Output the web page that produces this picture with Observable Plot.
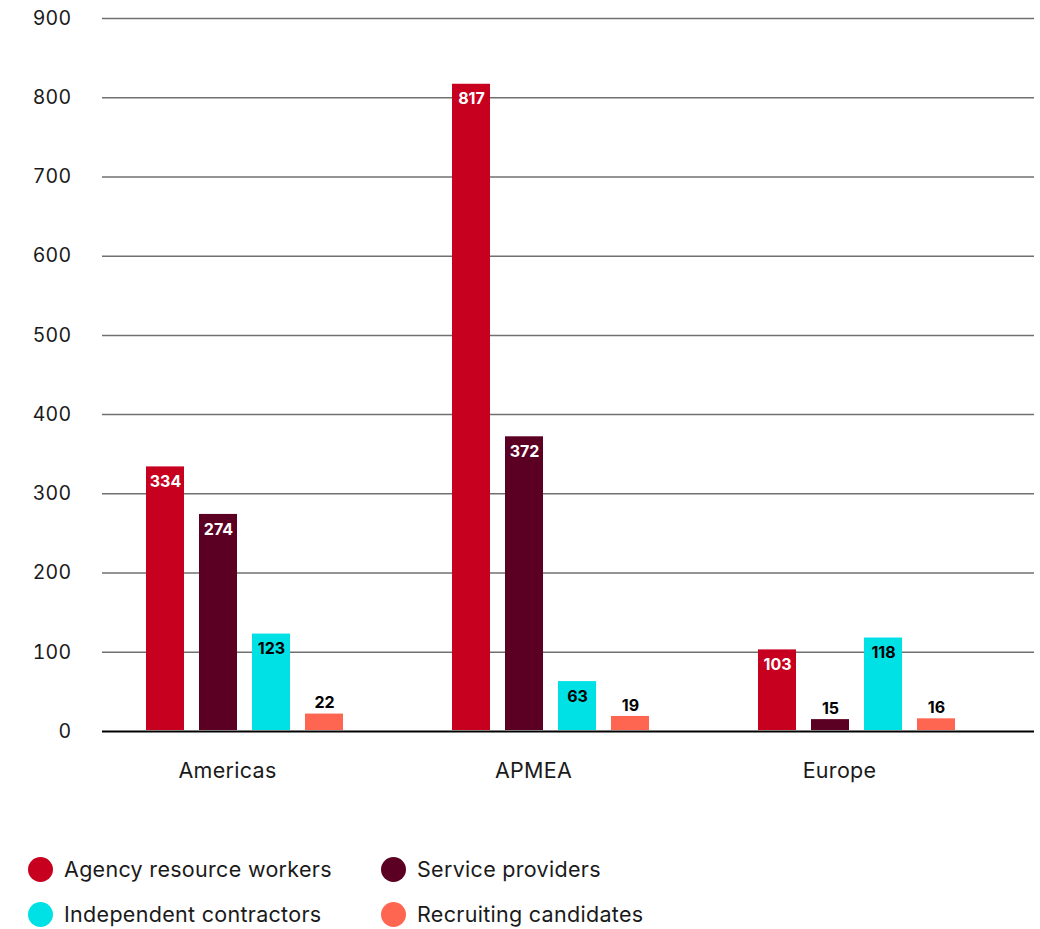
<!DOCTYPE html>
<html>
<head>
<meta charset="utf-8">
<script src="https://cdn.jsdelivr.net/npm/d3@7"></script>
<script src="https://cdn.jsdelivr.net/npm/@observablehq/plot@0.6"></script>
<style>
  html, body { margin: 0; padding: 0; background: #fff; }
  body { width: 1040px; font-family: Inter, "Noto Sans", sans-serif; color: #1a1a1a; }
  #chart { position: relative; width: 1040px; height: 800px; }
  #chart svg { position: absolute; left: 0; top: 0; }
  #legend { position: relative; height: 129px; }
  .item { position: absolute; display: flex; align-items: center; font-size: 21.5px; letter-spacing: 0.3px; line-height: 25px; color: #1a1a1a; }
  .dot { width: 25px; height: 25px; border-radius: 50%; margin-right: 11px; }
</style>
</head>
<body>
<div id="chart"></div>
<div id="legend"></div>
<script>
const groups = ["Americas", "APMEA", "Europe"];
const series = ["Agency resource workers", "Service providers", "Independent contractors", "Recruiting candidates"];
const seriesColors = ["#C8001F", "#5C0023", "#00E1E6", "#FF6652"];
const americas = [334, 274, 123, 22];
const apmea = [817, 372, 63, 19];
const europe = [103, 15, 118, 16];
const yTicks = [0, 100, 200, 300, 400, 500, 600, 700, 800, 900];

const valuesByGroup = [americas, apmea, europe];
const data = [];
groups.forEach((g, gi) => series.forEach((s, si) => data.push({group: g, series: s, si, value: valuesByGroup[gi][si]})));
const inside = d => d.value >= 50;

const font = "Inter, 'Noto Sans', sans-serif";
const common = {width: 1040, height: 800, marginTop: 18, marginBottom: 69, y: {domain: [0, 900], axis: null}};

// Background layer: grid, y tick labels, baseline across the full frame
const back = Plot.plot({
  ...common,
  marginLeft: 102,
  marginRight: 6,
  style: {fontFamily: font, color: "#1a1a1a", background: "#fff", letterSpacing: "0.3px"},
  marks: [
    Plot.ruleY(yTicks.filter(t => t > 0), {stroke: "#707070", strokeWidth: 1.5}),
    Plot.axisY({ticks: yTicks, tickSize: 0, tickPadding: 31, fontSize: 19.5, label: null, tickFormat: d => String(d)}),
    Plot.ruleY([0], {stroke: "#000", strokeWidth: 2})
  ]
});

// Foreground layer: grouped bars, value labels, group labels
const front = Plot.plot({
  ...common,
  marginLeft: 91,
  marginRight: 30,
  style: {fontFamily: font, color: "#1a1a1a", background: "transparent"},
  fx: {domain: groups, padding: 0, label: null},
  x: {domain: series, paddingInner: 0.28, paddingOuter: 0.977, axis: null},
  color: {domain: series, range: seriesColors},
  marks: [
    Plot.barY(data, {fx: "group", x: "series", y: "value", fill: "series", insetBottom: 1}),
    Plot.text(data.filter(d => inside(d) && d.si < 2), {fx: "group", x: "series", y: "value", text: d => String(d.value), dy: 15, fill: "#fff", fontWeight: "bold", fontSize: 16}),
    Plot.text(data.filter(d => inside(d) && d.si >= 2), {fx: "group", x: "series", y: "value", text: d => String(d.value), dy: 15, fill: "#000", fontWeight: "bold", fontSize: 16}),
    Plot.text(data.filter(d => !inside(d)), {fx: "group", x: "series", y: "value", text: d => String(d.value), dy: -11, fill: "#000", fontWeight: "bold", fontSize: 16}),
    Plot.axisFx({anchor: "bottom", tickSize: 0, tickPadding: 31, dx: -18, fontSize: 21.5, label: null, style: {letterSpacing: "0.3px"}})
  ]
});

const chartDiv = document.getElementById("chart");
chartDiv.appendChild(back);
chartDiv.appendChild(front);
front.querySelectorAll("g[aria-label='fx-axis tick label'] text").forEach(t => t.style.letterSpacing = "0.3px");

const legend = document.getElementById("legend");
const pos = [[28, 69], [381, 69], [28, 114], [381, 114]];
series.forEach((s, i) => {
  const el = document.createElement("div");
  el.className = "item";
  el.style.left = pos[i][0] + "px";
  el.style.top = (pos[i][1] - 12.5) + "px";
  el.innerHTML = `<span class="dot" style="background:${seriesColors[i]}"></span><span>${s}</span>`;
  legend.appendChild(el);
});
</script>
</body>
</html>
